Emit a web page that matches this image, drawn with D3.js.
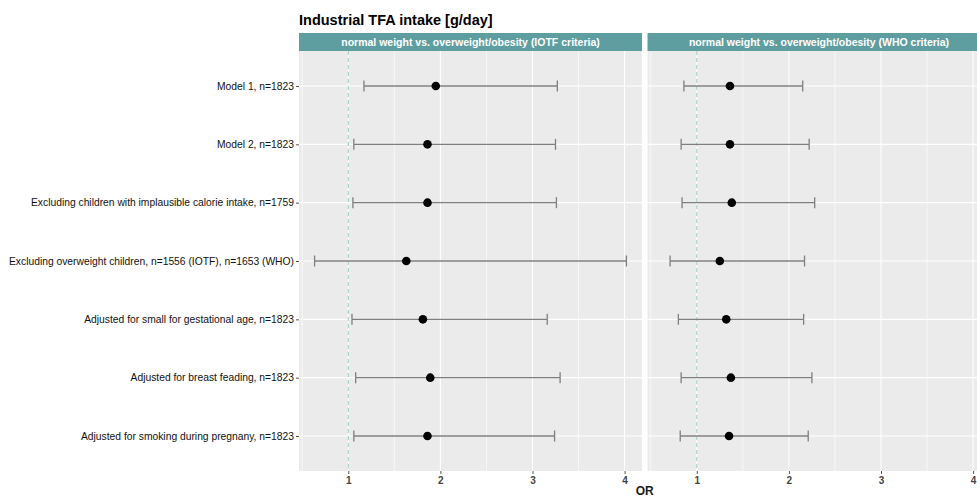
<!DOCTYPE html>
<html>
<head>
<meta charset="utf-8">
<script src="https://cdn.jsdelivr.net/npm/d3@7"></script>
<style>
  body { margin: 0; background: #fff; }
  svg { display: block; font-family: "Liberation Sans", Arial, sans-serif; }
</style>
</head>
<body>
<svg id="chart" width="977" height="500"></svg>
<script>
// --- data ---
const models = [
    "Model 1, n=1823",
    "Model 2, n=1823",
    "Excluding children with implausible calorie intake, n=1759",
    "Excluding overweight children, n=1556 (IOTF), n=1653 (WHO)",
    "Adjusted for small for gestational age, n=1823",
    "Adjusted for breast feading, n=1823",
    "Adjusted for smoking during pregnany, n=1823"
];
const facets = [
    "normal weight vs. overweight/obesity (IOTF criteria)",
    "normal weight vs. overweight/obesity (WHO criteria)"
];
// odds ratios and 95% CI, one array per facet
const orIOTF   = [1.95, 1.86, 1.86, 1.63, 1.81, 1.89, 1.86];
const lowIOTF  = [1.17, 1.06, 1.05, 0.634, 1.04, 1.08, 1.06];
const highIOTF = [3.27, 3.25, 3.26, 4.02, 3.16, 3.30, 3.24];
const orWHO    = [1.36, 1.36, 1.38, 1.25, 1.32, 1.37, 1.35];
const lowWHO   = [0.86, 0.83, 0.84, 0.71, 0.80, 0.83, 0.82];
const highWHO  = [2.15, 2.22, 2.28, 2.17, 2.16, 2.25, 2.21];
const xTicks = [1, 2, 3, 4];

const series = [
    { name: facets[0], or: orIOTF, lo: lowIOTF, hi: highIOTF },
    { name: facets[1], or: orWHO, lo: lowWHO, hi: highWHO }
];

const svg = d3.select("#chart");

// layout (ggplot-like)
const panelTop = 51, panelBottom = 471, stripH = 18;
const panelW = 343, gap = 5.5;
const panelLefts = [299, 299 + panelW + gap];

// shared x domain with 5% expansion
const allVals = lowIOTF.concat(highIOTF, lowWHO, highWHO);
const [mn, mx] = d3.extent(allVals);
const pad = (mx - mn) * 0.05;

const y = d3.scalePoint()
    .domain(models)
    .range([panelTop, panelBottom])
    .padding(0.6);

// title
svg.append("text")
    .attr("x", panelLefts[0])
    .attr("y", 25)
    .attr("font-size", 14.5)
    .attr("font-weight", "bold")
    .attr("fill", "#000")
    .text("Industrial TFA intake [g/day]");

series.forEach((s, i) => {
    const left = panelLefts[i];
    const x = d3.scaleLinear().domain([mn - pad, mx + pad]).range([left, left + panelW]);
    const g = svg.append("g");

    // strip
    g.append("rect")
        .attr("x", left).attr("y", panelTop - stripH)
        .attr("width", panelW).attr("height", stripH)
        .attr("fill", "#5F9EA0");
    g.append("text")
        .attr("x", left + panelW / 2)
        .attr("y", panelTop - stripH / 2 + 4)
        .attr("text-anchor", "middle")
        .attr("font-size", 10.5)
        .attr("font-weight", "bold")
        .attr("fill", "#fff")
        .text(s.name);

    // panel background
    g.append("rect")
        .attr("x", left).attr("y", panelTop)
        .attr("width", panelW).attr("height", panelBottom - panelTop)
        .attr("fill", "#EBEBEB");

    // minor grid
    const minor = d3.range(0.5, 4.6, 1).filter(v => v >= x.domain()[0] && v <= x.domain()[1]);
    g.selectAll(".minor").data(minor).join("line")
        .attr("x1", d => x(d)).attr("x2", d => x(d))
        .attr("y1", panelTop).attr("y2", panelBottom)
        .attr("stroke", "#fff").attr("stroke-width", 0.6);

    // major grid
    g.selectAll(".majx").data(xTicks).join("line")
        .attr("x1", d => x(d)).attr("x2", d => x(d))
        .attr("y1", panelTop).attr("y2", panelBottom)
        .attr("stroke", "#fff").attr("stroke-width", 1.1);
    g.selectAll(".majy").data(models).join("line")
        .attr("x1", left).attr("x2", left + panelW)
        .attr("y1", d => y(d)).attr("y2", d => y(d))
        .attr("stroke", "#fff").attr("stroke-width", 1.1);

    // reference line at OR = 1
    g.append("line")
        .attr("x1", x(1)).attr("x2", x(1))
        .attr("y1", panelTop).attr("y2", panelBottom)
        .attr("stroke", "#7FBFB0").attr("stroke-width", 0.8)
        .attr("stroke-dasharray", "4,3");

    // error bars
    const rows = models.map((m, k) => ({ m, or: s.or[k], lo: s.lo[k], hi: s.hi[k] }));
    const eb = g.selectAll(".eb").data(rows).join("g");
    eb.append("line")
        .attr("x1", d => x(d.lo)).attr("x2", d => x(d.hi))
        .attr("y1", d => y(d.m)).attr("y2", d => y(d.m))
        .attr("stroke", "#7F7F7F").attr("stroke-width", 1.3);
    eb.append("line")
        .attr("x1", d => x(d.lo)).attr("x2", d => x(d.lo))
        .attr("y1", d => y(d.m) - 5.5).attr("y2", d => y(d.m) + 5.5)
        .attr("stroke", "#7F7F7F").attr("stroke-width", 1.3);
    eb.append("line")
        .attr("x1", d => x(d.hi)).attr("x2", d => x(d.hi))
        .attr("y1", d => y(d.m) - 5.5).attr("y2", d => y(d.m) + 5.5)
        .attr("stroke", "#7F7F7F").attr("stroke-width", 1.3);
    eb.append("circle")
        .attr("cx", d => x(d.or)).attr("cy", d => y(d.m))
        .attr("r", 4.3).attr("fill", "#000");

    // x axis
    const ax = g.append("g")
        .attr("transform", `translate(0,${panelBottom})`)
        .call(d3.axisBottom(x).tickValues(xTicks).tickSize(3).tickPadding(3).tickFormat(d3.format("d")));
    ax.select(".domain").remove();
    ax.selectAll("line").attr("stroke", "#555");
    ax.selectAll("text")
        .attr("font-size", 10)
        .attr("font-weight", "bold")
        .attr("font-family", "Liberation Sans, Arial, sans-serif")
        .attr("fill", "#444");
});

// y axis on the first panel
const ay = svg.append("g")
    .attr("transform", `translate(${panelLefts[0]},0)`)
    .call(d3.axisLeft(y).tickSize(3).tickPadding(2));
ay.select(".domain").remove();
ay.selectAll("line").attr("stroke", "#555");
ay.selectAll("text")
    .attr("font-size", 10.3)
    .attr("font-family", "Liberation Sans, Arial, sans-serif")
    .attr("fill", "#111");

// x axis title
svg.append("text")
    .attr("x", (panelLefts[0] + panelLefts[1] + panelW) / 2)
    .attr("y", 495)
    .attr("text-anchor", "middle")
    .attr("font-size", 12)
    .attr("font-weight", "bold")
    .attr("fill", "#1a1a1a")
    .text("OR");
</script>
</body>
</html>
